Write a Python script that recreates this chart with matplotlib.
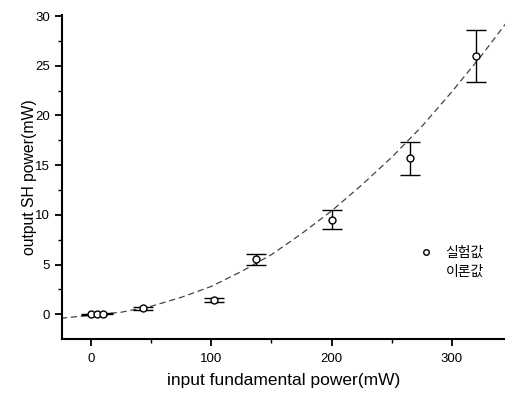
import matplotlib
matplotlib.use("Agg")
import matplotlib.pyplot as plt
from matplotlib.lines import Line2D

# measured points (input mW, SH mW, error)
exp_x = [0, 5, 10, 43, 102, 137, 200, 265, 320]
exp_y = [0.0, 0.0, 0.05, 0.6, 1.4, 5.55, 9.5, 15.7, 26.0]
exp_err = [0.05, 0.05, 0.05, 0.15, 0.2, 0.55, 0.95, 1.65, 2.6]

# theory curve
theory_x = [-25, 0, 25, 50, 75, 100, 125, 150, 175, 200, 225, 250, 275, 300, 325, 345]
theory_y = [-0.4, -0.1, 0.2, 0.8, 1.7, 2.8, 4.3, 6.0, 8.1, 10.4, 13.0, 15.8, 18.9, 22.4, 26.1, 29.3]

plt.rcParams['font.family'] = ['Liberation Sans', 'DejaVu Sans']

fig = plt.figure(figsize=(5.05, 3.98), dpi=100)
ax = fig.add_axes([0.1228, 0.148, 0.877, 0.814])

ax.plot(theory_x, theory_y, color='#444444', lw=0.9, ls=(0, (5, 3)))
ax.errorbar(exp_x, exp_y, yerr=exp_err, fmt='o', mfc='white', mec='black',
            ms=5, mew=1.0, ecolor='black', elinewidth=1.0, capsize=7, capthick=1.0)

ax.set_xlim(-24, 344)
ax.set_ylim(-2.5, 30.1)
ax.set_xticks([0, 100, 200, 300])
ax.set_xticks([50, 150, 250], minor=True)
ax.set_yticks([0, 5, 10, 15, 20, 25, 30])
ax.set_yticks([2.5, 7.5, 12.5, 17.5, 22.5, 27.5], minor=True)
ax.tick_params(axis='both', which='major', direction='out', length=5, width=1.3, labelsize=9.5)
ax.tick_params(axis='x', which='major', pad=5)
ax.tick_params(axis='both', which='minor', direction='out', length=3, width=1.0)

for s in ['top', 'right']:
    ax.spines[s].set_visible(False)
for s in ['left', 'bottom']:
    ax.spines[s].set_linewidth(1.5)

ax.set_xlabel('input fundamental power(mW)', fontsize=12.5, labelpad=6)
ax.set_ylabel('output SH power(mW)', fontsize=11.3, labelpad=-1)

handles = [Line2D([], [], marker='o', ls='none', mfc='white', mec='black', ms=4, mew=1.0),
           Line2D([], [], ls='none')]
ax.legend(handles, ['실험값', '이론값'], loc='upper left', bbox_to_anchor=(0.775, 0.325),
          frameon=False, handlelength=1.2, handletextpad=0.8, labelspacing=0.35,
          prop={'family': ['Noto Sans CJK KR', 'DejaVu Sans'], 'size': 10})

fig.savefig('out.png', dpi=100)
